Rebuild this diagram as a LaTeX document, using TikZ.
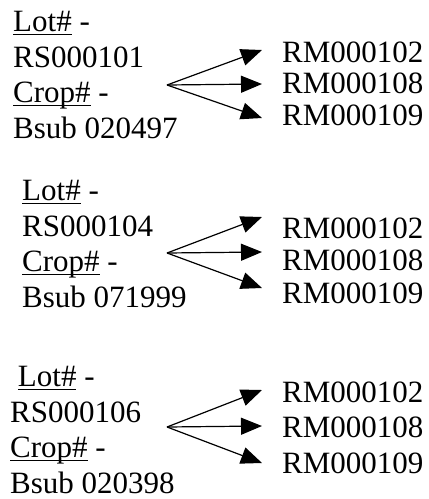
\documentclass[tikz,border=0pt]{standalone}
\usepackage{fontspec}
\setmainfont{Liberation Serif}
\usetikzlibrary{arrows.meta}

\newcommand\undl[1]{\setbox0\hbox{#1}\rlap{\rule[-3.2pt]{\wd0}{1.3pt}}\box0\relax}

\begin{document}
\begin{tikzpicture}[x=1pt,y=-1pt,
  lot/.style={anchor=base west,inner sep=0pt,align=left,font=\fontsize{31}{35.4}\selectfont},
  item/.style={anchor=base west,inner sep=0pt,font=\fontsize{31}{31}\selectfont},
  arr/.style={-{Triangle[length=21pt,width=17pt]},line width=1.2pt}]
\useasboundingbox (0,0) rectangle (429,499);
% first lot
\node[lot](lot1) at (13,138){\undl{Lot\#} -\\RS000101\\\undl{Crop\#} -\\Bsub 020497};
\coordinate (o1) at (167,85);
\node[item](r11) at (282,62){RM000102};
\node[item](r12) at (282,93.5){RM000108};
\node[item](r13) at (282,125){RM000109};
\coordinate (t11) at (262,50);
\coordinate (t12) at (262,84);
\coordinate (t13) at (262,118);
\draw[arr] (o1) -- (t11);
\draw[arr] (o1) -- (t12);
\draw[arr] (o1) -- (t13);
% second lot
\node[lot](lot2) at (22,307){\undl{Lot\#} -\\RS000104\\\undl{Crop\#} -\\Bsub 071999};
\coordinate (o2) at (167,253);
\node[item](r21) at (282,238){RM000102};
\node[item](r22) at (282,270){RM000108};
\node[item](r23) at (282,303){RM000109};
\coordinate (t21) at (262,217);
\coordinate (t22) at (262,252);
\coordinate (t23) at (262,288);
\draw[arr] (o2) -- (t21);
\draw[arr] (o2) -- (t22);
\draw[arr] (o2) -- (t23);
% third lot
\node[lot](lot3) at (10,493){\hspace*{7.75pt}\undl{Lot\#} -\\RS000106\\\undl{Crop\#} -\\Bsub 020398};
\coordinate (o3) at (167,427);
\node[item](r31) at (282,402){RM000102};
\node[item](r32) at (282,437.5){RM000108};
\node[item](r33) at (282,473){RM000109};
\coordinate (t31) at (262,390);
\coordinate (t32) at (262,426);
\coordinate (t33) at (262,463);
\draw[arr] (o3) -- (t31);
\draw[arr] (o3) -- (t32);
\draw[arr] (o3) -- (t33);
\end{tikzpicture}
\end{document}
